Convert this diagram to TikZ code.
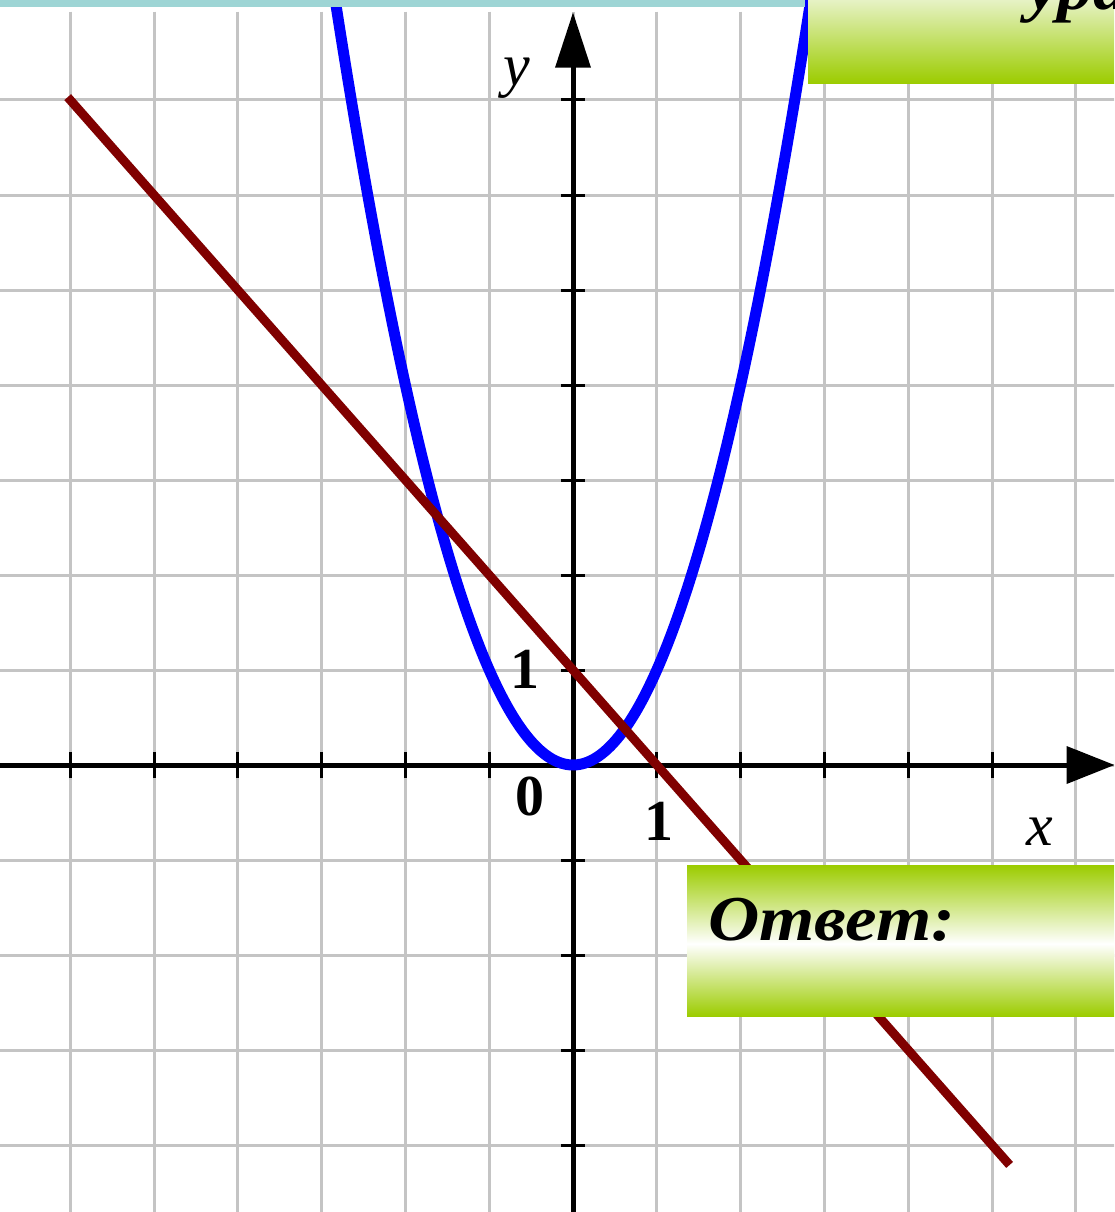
\documentclass[tikz,border=0pt]{standalone}
\usepackage{fontspec}
\setmainfont{Liberation Serif}
\definecolor{gridgray}{RGB}{196,196,196}
\definecolor{barcyan}{RGB}{158,213,213}
\definecolor{boxgreen}{RGB}{156,204,0}
\definecolor{boxlight}{RGB}{230,242,196}
\definecolor{linered}{RGB}{128,0,0}
\definecolor{parblue}{RGB}{0,0,255}
\pgfdeclareverticalshading{answershade}{100bp}{color(0bp)=(boxgreen); color(25bp)=(boxgreen); color(49bp)=(white); color(75bp)=(boxgreen); color(100bp)=(boxgreen)}
\pgfdeclareverticalshading{topshade}{100bp}{color(0bp)=(boxgreen); color(25bp)=(boxgreen); color(75bp)=(boxlight); color(100bp)=(boxlight)}
\tikzset{
  gridline/.style={draw=gridgray, line width=3pt},
  axisline/.style={draw=black, line width=5pt},
  tickline/.style={draw=black, line width=3pt},
  parab/.style={draw=parblue, line width=11pt},
  redline/.style={draw=linered, line width=9pt},
  numlabel/.style={inner sep=0pt, font=\fontsize{58}{62}\selectfont\bfseries},
  varlabel/.style={inner sep=0pt, font=\fontsize{60}{64}\selectfont\itshape},
  greenbox/.style={inner sep=0pt, anchor=north west},
  boxtext/.style={inner sep=0pt, anchor=base west, xscale=1.11, font=\fontsize{64}{70}\selectfont\bfseries\itshape}
}
\begin{document}
\begin{tikzpicture}[x=1pt,y=-1pt]
\useasboundingbox (0,0) rectangle (1114,1212);
\clip (0,0) rectangle (1114,1212);
\fill[white] (0,0) rectangle (1114,1212);
\begin{scope}[shift={(573,765)},x=83.8pt,y=95pt]
  % grid
  \foreach \i in {-6,...,6} \draw[gridline] (\i,7.93) -- (\i,-4.8);
  \foreach \j in {-4,...,7} \draw[gridline] (-6.9,\j) -- (6.5,\j);
  % axes
  \draw[axisline] (-6.9,0) -- (5.9,0);
  \fill[black] (5.89,0.2) -- (6.46,0) -- (5.89,-0.2) -- cycle;
  \draw[axisline] (0,-4.8) -- (0,7.35);
  \fill[black] (-0.215,7.34) -- (0,7.92) -- (0.215,7.34) -- cycle;
  \foreach \i in {-6,...,-1,1,2,3,4,5} \draw[tickline] (\i,-0.137) -- (\i,0.137);
  \foreach \j in {-4,...,-1,1,2,...,7} \draw[tickline] (-0.143,\j) -- (0.143,\j);
  % parabola y = x^2
  \draw[parab] plot[domain=-2.95:2.95, samples=150, smooth] (\x,{\x*\x});
  % line y = 1 - x
  \draw[redline] (-6.03,7.03) -- (5.21,-4.21);
\end{scope}
% axis labels
\node[numlabel] (lab0) at (530,796) {0};
\node[numlabel] (labxone) at (659,821) {1};
\node[numlabel] (labyone) at (525,669) {1};
\node[varlabel] (labx) at (1040,832) {x};
\node[varlabel] (laby) at (517,78) {y};
% boxes
\node[greenbox, minimum width=306pt, minimum height=83pt, shading=topshade] (topbox) at (808,0) {};
\node[boxtext] (toptext) at (1027,10) {уравнения};
\node[greenbox, minimum width=427pt, minimum height=151pt, shading=answershade] (answerbox) at (687,865) {};
\node[boxtext] (answertext) at (708,940) {Ответ:};
% top bar
\fill[barcyan] (0,0) rectangle (805,7);
\end{tikzpicture}
\end{document}
